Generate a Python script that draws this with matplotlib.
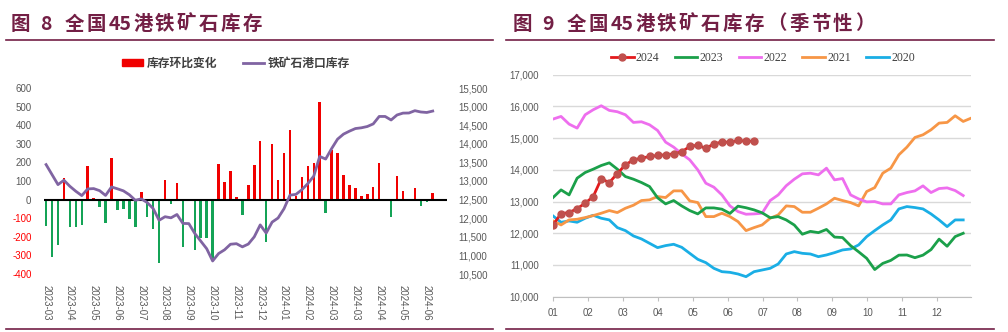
import matplotlib
matplotlib.use('Agg')
import matplotlib.pyplot as plt
import numpy as np
from matplotlib.lines import Line2D
from matplotlib.patches import Patch

# ---- left chart: weekly change and port stock (from 2023-03-31) ----
change = [-143, -310, -242, 116, -149, -149, -134, 181, 7, -41,
          -127, 226, -57, -52, -106, -145, 43, -91, -160, -342,
          106, -25, 90, -256, -4, -272, -206, -208, -332, 192,
          95, 156, 13, -84, 79, 186, 314, -229, 299, 106,
          249, 375, 18, 120, 181, 197, 523, -73, 269, 253,
          131, 79, 65, 18, 32, 68, 197, 0, -95, 129,
          48, 2, 63, -36, -14, 38]
stock = [13441, 13172, 12903, 13020, 12858, 12724, 12608, 12787, 12796, 12740,
         12612, 12840, 12790, 12735, 12630, 12482, 12520, 12420, 12260, 11944,
         12040, 12010, 12100, 11860, 11855, 11590, 11385, 11180, 10850, 11050,
         11150, 11300, 11315, 11230, 11305, 11500, 11820, 11600, 11895, 12005,
         12255, 12620, 12640, 12765, 12930, 13130, 13660, 13590, 13870, 14125,
         14260, 14340, 14410, 14430, 14465, 14535, 14735, 14735, 14640, 14775,
         14825, 14828, 14890, 14855, 14842, 14880]
date_labels = ['2023-03', '2023-04', '2023-05', '2023-06', '2023-07', '2023-08',
               '2023-09', '2023-10', '2023-11', '2023-12', '2024-01', '2024-02',
               '2024-03', '2024-03', '2024-04', '2024-05', '2024-06']

# ---- right chart: seasonal, weekly ----
s2024 = [12263, 12621, 12653, 12779, 12947, 13158, 13716, 13600, 13884, 14158,
         14316, 14368, 14421, 14453, 14474, 14505, 14568, 14737, 14779, 14674,
         14821, 14874, 14874, 14926, 14905, 14905]
s2023 = [13126, 13368, 13210, 13737, 13916, 14021, 14137, 14221, 14021, 13789,
         13705, 13600, 13474, 13120, 12926, 13032, 12863, 12716, 12611, 12800,
         12800, 12760, 12625, 12855, 12805, 12737, 12645, 12490, 12525, 12420,
         12260, 11970, 12060, 12020, 12120, 11880, 11865, 11610, 11415, 11210,
         10856, 11050, 11145, 11310, 11315, 11230, 11310, 11485, 11815, 11590,
         11895, 12000]
s2022 = [15600, 15684, 15442, 15316, 15737, 15895, 16021, 15874, 15832, 15737,
         15495, 15516, 15421, 15242, 14874, 14716, 14505, 14316, 14000, 13579,
         13453, 13210, 12863, 12684, 12600, 12611, 12632, 13032, 13210, 13500,
         13705, 13874, 13895, 13842, 14053, 13684, 13726, 13210, 13084, 12990,
         13000, 12926, 12926, 13210, 13284, 13337, 13495, 13284, 13410, 13432,
         13347, 13189]
s2021 = [12389, 12263, 12421, 12442, 12495, 12558, 12632, 12716, 12653, 12789,
         12884, 13032, 13053, 13158, 13126, 13337, 13337, 13021, 12968, 12526,
         12526, 12632, 12526, 12368, 12084, 12179, 12263, 12474, 12579, 12863,
         12842, 12663, 12663, 12790, 12926, 13105, 13032, 12968, 12863, 13316,
         13440, 13895, 14053, 14474, 14716, 15021, 15105, 15263, 15474, 15495,
         15705, 15526, 15632]
s2020 = [12547, 12347, 12389, 12347, 12474, 12568, 12474, 12421, 12179, 12084,
         11916, 11821, 11684, 11547, 11611, 11653, 11558, 11368, 11179, 11074,
         10895, 10789, 10768, 10716, 10632, 10789, 10842, 10895, 11032, 11347,
         11421, 11368, 11347, 11263, 11316, 11389, 11474, 11505, 11632, 11895,
         12084, 12263, 12421, 12768, 12842, 12811, 12768, 12610, 12421, 12210,
         12421, 12421]
month_labels = ['01', '02', '03', '04', '05', '06', '07', '08', '09', '10', '11', '12']

TITLE_C = '#731F45'
GRAY = '#595959'
CJK = ['Noto Sans CJK SC', 'DejaVu Sans']
TICKF = 'Liberation Sans'

fig = plt.figure(figsize=(10.08, 3.32), dpi=100)


def spaced_title(x0, tokens):
    # titles in the source are letter-spaced, so place token by token (pixel advances)
    xp = x0
    for txt, adv in tokens:
        fig.text(xp / 1008, 1 - 24 / 332, txt, family=CJK, fontsize=14, fontweight='bold',
                 color=TITLE_C, va='center', ha='left')
        xp += adv


base = [('图', 29), ('8', 25), ('全', 22), ('国', 22), ('45', 24)] + [(c, 22) for c in '港铁矿石库存']
spaced_title(11, base)
right = [('图', 29), ('9', 25), ('全', 22), ('国', 22), ('45', 24)] + [(c, 22) for c in '港铁矿石库存（季节性）']
spaced_title(513, right)
for x0, x1 in [(6, 493), (506, 994)]:
    fig.add_artist(Line2D([x0 / 1008, x1 / 1008], [1 - 40 / 332] * 2, color=TITLE_C, lw=1.2))
    fig.add_artist(Line2D([x0 / 1008, x1 / 1008], [1 - 329 / 332] * 2, color=TITLE_C, lw=1.2))

# ---------------- left chart ----------------
ax = fig.add_axes([44 / 1008, 1 - 274 / 332, 403 / 1008, 186 / 332])
x = np.arange(len(change))
cols = ['#F00000' if v >= 0 else '#14A356' for v in change]
ax.bar(x, change, width=0.42, color=cols, zorder=2)
ax.axhline(0, color='black', lw=1.5, zorder=3)
ax.set_ylim(-400, 600)
ax.set_xlim(-0.35, 67.4)
ax.set_yticks(range(-400, 601, 100))
ax.set_yticklabels([str(v) for v in range(-400, 601, 100)], family=TICKF, fontsize=7)
for lab, v in zip(ax.get_yticklabels(), range(-400, 601, 100)):
    lab.set_color('#FF0000' if v < 0 else GRAY)
ax.set_xticks(np.arange(0, 65, 4))
ax.set_xticklabels(date_labels, rotation=-90, family=TICKF, fontsize=7, color=GRAY)
ax.tick_params(axis='y', length=0, pad=9)
ax.tick_params(axis='x', length=0, pad=8)
for s in ax.spines.values():
    s.set_visible(False)

ax2 = ax.twinx()
ax2.plot(x, stock, color='#8064A2', lw=2, zorder=4)
ax2.set_ylim(10500, 15500)
ax2.set_yticks(range(10500, 15501, 500))
ax2.set_yticklabels([f'{v:,}' for v in range(10500, 15501, 500)], family=TICKF, fontsize=7, color=GRAY)
ax2.tick_params(axis='y', length=0, pad=8)
for s in ax2.spines.values():
    s.set_visible(False)

fig.legend(handles=[Patch(color='#F00000', label='库存环比变化'),
                    Line2D([], [], color='#8064A2', lw=2, label='铁矿石港口库存')],
           loc='center', bbox_to_anchor=(236 / 1008, 1 - 63 / 332), ncol=2, frameon=False,
           prop={'family': CJK, 'size': 8.5, 'weight': 'bold'}, labelcolor='#404040',
           handlelength=1.8, handleheight=0.6, columnspacing=2.2, handletextpad=0.3)

# ---------------- right chart ----------------
bx = fig.add_axes([553 / 1008, 1 - 296.7 / 332, 418 / 1008, 222 / 332])
wk = 12 / 52.1


def wx(vals):
    return 1 + np.arange(len(vals)) * wk


bx.plot(wx(s2020), s2020, color='#1AAEE5', lw=2, label='2020')
bx.plot(wx(s2021), s2021, color='#F79646', lw=2, label='2021')
bx.plot(wx(s2022), s2022, color='#EE6EEE', lw=2, label='2022')
bx.plot(wx(s2023), s2023, color='#1BA04A', lw=2, label='2023')
bx.plot(wx(s2024), s2024, color='#E31A1C', lw=2, marker='o', ms=5,
        mfc='#C0504D', mec='#C0504D', label='2024')
bx.set_xlim(1, 12.97)
bx.set_ylim(10000, 17000)
bx.set_yticks(range(10000, 17001, 1000))
bx.set_yticklabels([f'{v:,}' for v in range(10000, 17001, 1000)], family=TICKF, fontsize=7, color=GRAY)
bx.set_xticks(range(1, 13))
bx.set_xticklabels(month_labels, family=TICKF, fontsize=7, color=GRAY)
bx.grid(axis='y', color='#D9D9D9', lw=1)
bx.set_axisbelow(True)
bx.tick_params(axis='y', length=0, pad=10)
bx.tick_params(axis='x', length=3, color='#BFBFBF', pad=5)
for k in ['top', 'right', 'left']:
    bx.spines[k].set_visible(False)
bx.spines['bottom'].set_color('#BFBFBF')

h, l = bx.get_legend_handles_labels()
fig.legend(h[::-1], l[::-1], loc='center', bbox_to_anchor=(763 / 1008, 1 - 58 / 332), ncol=5,
           frameon=False, prop={'family': 'Liberation Serif', 'size': 8.5}, labelcolor='#404040',
           handlelength=1.9, columnspacing=1.3, handletextpad=0.2)

fig.savefig('out.png', dpi=100)
